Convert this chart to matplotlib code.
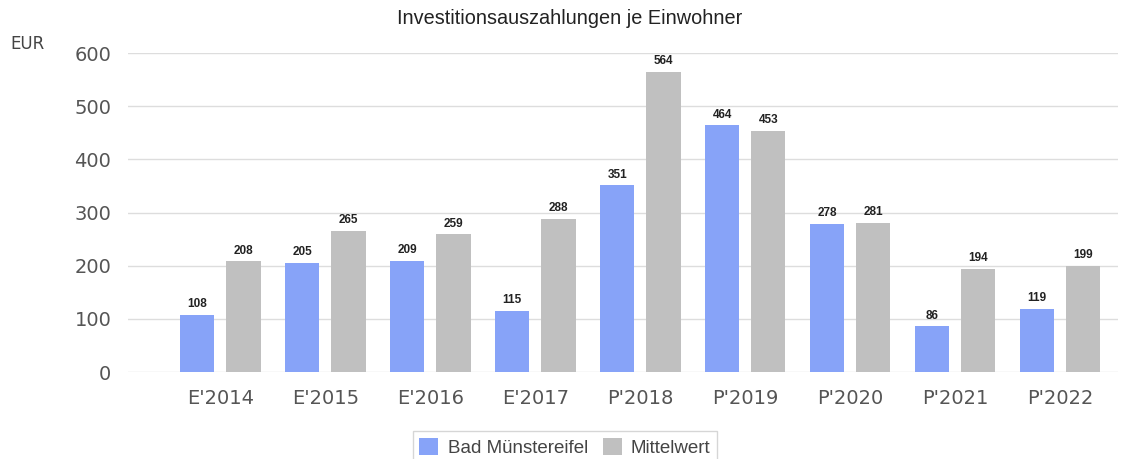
import numpy as np
import matplotlib.pyplot as plt

categories = ["E'2014", "E'2015", "E'2016", "E'2017", "P'2018",
              "P'2019", "P'2020", "P'2021", "P'2022"]
bad_muenstereifel = [108, 205, 209, 115, 351, 464, 278, 86, 119]
mittelwert = [208, 265, 259, 288, 564, 453, 281, 194, 199]

BLUE = "#87a3f8"
GRAY = "#c0c0c0"
ARIAL = "Liberation Sans"

fig = plt.figure(figsize=(11.39, 4.59), dpi=100)
ax = fig.add_axes([0.1124, 0.1895, 0.8692, 0.695])

x = np.arange(len(categories))
w = 0.325
off = 0.22
b1 = ax.bar(x - off, bad_muenstereifel, w, color=BLUE, label="Bad Münstereifel", zorder=3)
b2 = ax.bar(x + off, mittelwert, w, color=GRAY, label="Mittelwert", zorder=3)

for bars, vals in ((b1, bad_muenstereifel), (b2, mittelwert)):
    for r, v in zip(bars, vals):
        ax.text(r.get_x() + r.get_width() / 2, v + 9, str(v), ha="center", va="bottom",
                fontsize=8.5, fontweight="bold", color="#222222", family=ARIAL)

ax.set_xlim(-0.88, 8.55)
ax.set_ylim(0, 600)
ax.set_yticks(range(0, 601, 100))
ax.set_xticks(x)
ax.set_xticklabels(categories)
ax.tick_params(axis="both", length=0, labelsize=14, labelcolor="#555555")
ax.tick_params(axis="x", pad=12)
ax.tick_params(axis="y", pad=12)
ax.grid(axis="y", color="#dddddd", linewidth=1, zorder=0)
for s in ax.spines.values():
    s.set_visible(False)

fig.text(0.5, 0.96, "Investitionsauszahlungen je Einwohner", ha="center", va="center",
         fontsize=14.3, color="#222222", family=ARIAL)
fig.text(0.009, 0.905, "EUR", ha="left", va="center", fontsize=12, color="#444444")

leg = fig.legend(loc="lower center", bbox_to_anchor=(0.496, -0.03), ncol=2,
                 prop={"family": ARIAL, "size": 13.5},
                 frameon=True, fancybox=False, handlelength=1.0, handleheight=1.0,
                 handletextpad=0.5, columnspacing=0.8, borderpad=0.35)
leg.get_frame().set_edgecolor("#cccccc")
for t in leg.get_texts():
    t.set_color("#444444")

fig.savefig("out.png", dpi=100)
